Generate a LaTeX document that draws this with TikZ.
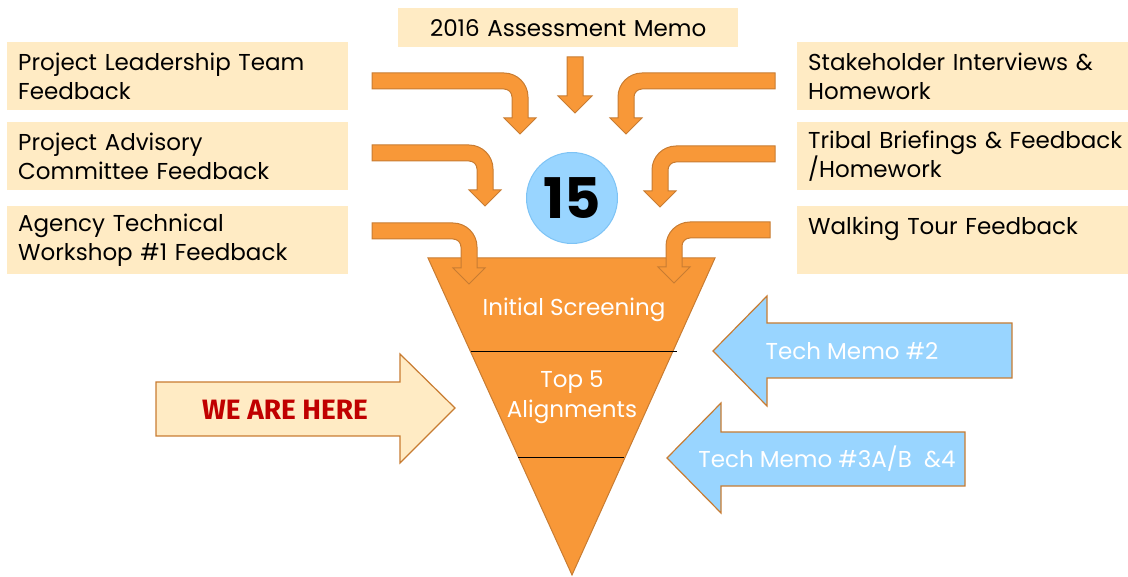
\documentclass[tikz,border=0pt]{standalone}
\usepackage{fontspec}
\setsansfont{Poppins}
\newfontfamily\rotulo{Fira Sans}
\usetikzlibrary{positioning}
\definecolor{NaranjaEmbudo}{RGB}{248,152,56}
\definecolor{NaranjaBorde}{RGB}{200,124,50}
\definecolor{CremaCaja}{RGB}{255,235,196}
\definecolor{AzulMemo}{RGB}{153,213,255}
\definecolor{AzulBorde}{RGB}{125,195,245}
\definecolor{RojoAqui}{RGB}{192,0,0}

% flecha curva que entra por la izquierda y baja: x inicio, y del tramo, x de bajada, y de la punta
\newcommand{\curvaIzq}[4]{%
  \draw[flecha] (#1,#2-8) -- (#3-16,#2-8) arc[start angle=270, end angle=360, radius=24]
    -- (#3+8,#4-16) -- (#3+16,#4-16) -- (#3,#4) -- (#3-16,#4-16) -- (#3-8,#4-16)
    -- (#3-8,#2+16) arc[start angle=0, end angle=-90, radius=8] -- (#1,#2+8) -- cycle;}
% la misma, entrando por la derecha
\newcommand{\curvaDer}[4]{%
  \draw[flecha] (#1,#2-8) -- (#3+16,#2-8) arc[start angle=270, end angle=180, radius=24]
    -- (#3-8,#4-16) -- (#3-16,#4-16) -- (#3,#4) -- (#3+16,#4-16) -- (#3+8,#4-16)
    -- (#3+8,#2+16) arc[start angle=180, end angle=270, radius=8] -- (#1,#2+8) -- cycle;}

\begin{document}
\begin{tikzpicture}[x=1pt, y=-1pt,
  font=\sffamily,
  caja/.style={fill=CremaCaja, anchor=north west, inner xsep=11pt, inner ysep=2pt,
    text width=319pt, minimum height=68pt, align=left,
    font=\sffamily\fontsize{23}{28.5}\selectfont},
  flecha/.style={fill=NaranjaEmbudo, draw=NaranjaBorde, line width=1pt},
  embudo/.style={fill=NaranjaEmbudo, draw=NaranjaBorde, line width=1pt},
  memo/.style={fill=AzulMemo, draw=NaranjaBorde, line width=1.2pt},
  aqui/.style={fill=CremaCaja, draw=NaranjaBorde, line width=1.2pt},
  blanco/.style={text=white, align=center, font=\sffamily\fontsize{23}{30}\selectfont},
]
\useasboundingbox (0,0) rectangle (1128,577);

% --- Cajas de entrada ---
\node[caja] (lider) at (7,42) {Project Leadership Team\\Feedback};
\node[caja] (asesor) at (7,122) {Project Advisory\\Committee Feedback};
\node[caja] (taller) at (7,206) {Agency Technical\\Workshop \#1 Feedback};
\node[caja, text width=340pt] (entrev) at (797,42) {Stakeholder Interviews \&\\Homework};
\node[caja, text width=340pt] (tribal) at (797,122) {Tribal Briefings \& Feedback\\/Homework};
\node[caja, text width=340pt] (paseo) at (797,206) {Walking Tour Feedback\\~};
\node[caja, text width=318pt, minimum height=39pt, align=center] (memo16) at (398,8) {2016 Assessment Memo};

% --- Embudo ---
\draw[embudo] (428,258) -- (715,258) -- (572,575) -- cycle;
\draw[line width=0.8pt] (471,351) -- (677,351);
\draw[line width=0.8pt] (518,457) -- (624,457);
\node[blanco] (filtro) at (574,310) {Initial Screening};
\node[blanco, align=center] (top5) at (572,397) {Top 5\\Alignments};

% --- Conteo ---
\node[circle, fill=AzulMemo, draw=AzulBorde, line width=1pt, minimum size=91pt, inner sep=0pt,
  font=\sffamily\bfseries\fontsize{56}{56}\selectfont] (conteo) at (572,198) {15};

% --- Flechas hacia el embudo ---
\draw[flecha] (567,57) -- (583,57) -- (583,96) -- (592,96) -- (575,113) -- (558,96) -- (567,96) -- cycle;
\curvaIzq{372}{81}{520}{134}
\curvaIzq{372}{153}{485}{206}
\curvaIzq{372}{231}{469}{284}
\curvaDer{775}{81}{626}{134}
\curvaDer{775}{154}{660}{207}
\curvaDer{770}{230}{674}{283}

% --- Flechas de bloque ---
\draw[aqui] (156,382) -- (400,382) -- (400,354) -- (455,408) -- (400,463) -- (400,436) -- (156,436) -- cycle;
\node[text=RojoAqui, font=\rotulo\bfseries\fontsize{28}{28}\selectfont] (aqui) at (285,410) {WE ARE HERE};

\draw[memo] (1012,323) -- (767,323) -- (767,296) -- (713,351) -- (767,406) -- (767,378) -- (1012,378) -- cycle;
\node[blanco] (tm2) at (852,351) {Tech Memo \#2};
\draw[memo] (965,432) -- (721,432) -- (721,403) -- (667,458) -- (721,513) -- (721,486) -- (965,486) -- cycle;
\node[blanco] (tm3) at (827,459) {Tech Memo \#3A/B \ \&4};

\end{tikzpicture}
\end{document}
